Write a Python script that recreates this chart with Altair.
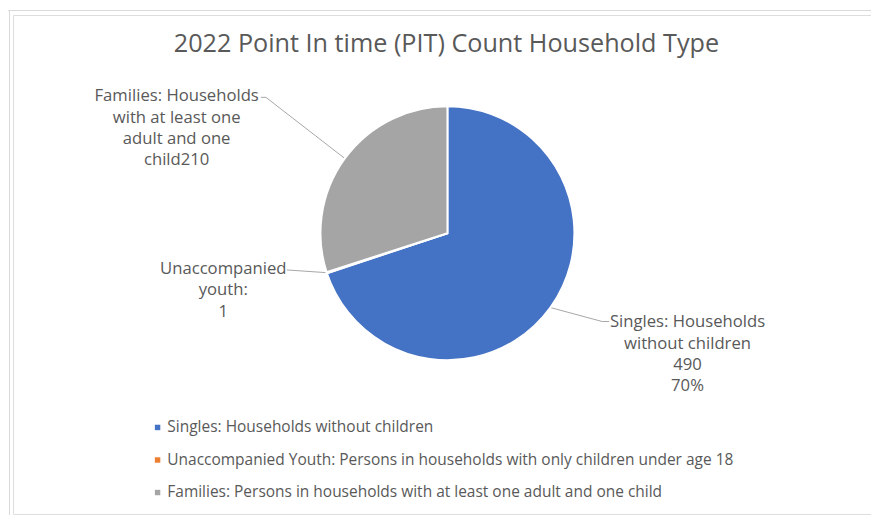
import altair as alt
import pandas as pd
import numpy as np

# ---------------- data ----------------
categories = [
    "Singles: Households without children",
    "Unaccompanied Youth: Persons in households with only children under age 18",
    "Families: Persons in households with at least one adult and one child",
]
values = [490, 1, 210]
colors = ["#4472C4", "#ED7D31", "#A5A5A5"]
label_texts = [
    "Singles: Households\nwithout children\n490\n70%",
    "Unaccompanied\nyouth:\n1",
    "Families: Households\nwith at least one\nadult and one\nchild210",
]
title_text = "2022 Point In time (PIT) Count Household Type"

# ---------------- layout (page pixels) ----------------
MARGIN, PAD = 8, 5
OFF = MARGIN + PAD
W, H = 879 - OFF - 1, 517 - OFF - 1
FONT = "Open Sans"
TXT = "#595959"
CX, CY, R = 451, 233, 128
LABEL_POS = [(693, 328), (225, 274), (178, 100)]        # center x, first baseline
LEADER_PTS = [[(607, 322), (614, 322)], [(289, 270)], [(268, 96), (263, 96)]]


def v(p):
    return p - OFF


df = pd.DataFrame({"category": categories, "value": values, "idx": range(len(values))})

# leader lines start at the mid-angle of each slice, on the pie edge
total = float(sum(values))
cum = np.cumsum(values) - np.array(values) / 2.0
mid = cum / total * 2 * np.pi
rows = []
for i, c in enumerate(categories):
    ex = CX + R * np.sin(mid[i])
    ey = CY - R * np.cos(mid[i])
    pts = [(ex, ey)] + LEADER_PTS[i]
    for k, (px, py) in enumerate(pts):
        rows.append({"category": c, "k": k, "x": v(px), "y": v(py)})
leaders = pd.DataFrame(rows)

base = alt.Chart(df)

pie = base.mark_arc(outerRadius=R, stroke="white", strokeWidth=2).encode(
    theta=alt.Theta("value:Q", stack=True),
    order=alt.Order("idx:Q"),
    color=alt.Color(
        "category:N",
        scale=alt.Scale(domain=categories, range=colors),
        legend=alt.Legend(
            title=None,
            orient="none",
            legendX=v(151),
            legendY=v(421),
            symbolType="square",
            symbolSize=30,
            symbolStrokeWidth=0,
            labelFont=FONT,
            labelFontSize=15.6,
            labelColor=TXT,
            labelLimit=800,
            rowPadding=15.8,
            labelOffset=2,
        ),
    ),
    x=alt.value(v(CX)),
    y=alt.value(v(CY)),
)

lines = alt.Chart(leaders).mark_line(color="#A6A6A6", strokeWidth=1).encode(
    x=alt.X("x:Q", scale=None),
    y=alt.Y("y:Q", scale=None),
    detail="category:N",
    order="k:Q",
)

labels = []
for i, c in enumerate(categories):
    lx, ly = LABEL_POS[i]
    labels.append(
        alt.Chart(pd.DataFrame({"t": [label_texts[i]]}))
        .mark_text(
            font=FONT, fontSize=16.8, color=TXT, align="center",
            baseline="alphabetic", lineBreak="\n", lineHeight=21.5,
        )
        .encode(text="t:N", x=alt.value(v(lx)), y=alt.value(v(ly)))
    )

title = (
    alt.Chart(pd.DataFrame({"t": [title_text]}))
    .mark_text(font=FONT, fontSize=25.4, color=TXT, align="center", baseline="alphabetic")
    .encode(text="t:N", x=alt.value(v(450)), y=alt.value(v(50)))
)

border = alt.Chart(pd.DataFrame({"a": [0]})).mark_rule(color="#D9D9D9", strokeWidth=1)
top_line = border.encode(x=alt.value(-PAD), x2=alt.value(W + 1), y=alt.value(-PAD + 0.5))
left_line = border.encode(x=alt.value(-PAD + 1.5), y=alt.value(-PAD), y2=alt.value(H + 1))

chart = (
    alt.layer(top_line, left_line, lines, pie, *labels, title)
    .properties(
        width=W,
        height=H,
        padding={"left": PAD, "top": PAD, "right": 0, "bottom": 0},
        autosize=alt.AutoSizeParams(type="none"),
    )
    .configure_view(stroke=None)
    .configure(background="white")
)

chart.save("out.html", embed_options={"renderer": "svg", "actions": False})
